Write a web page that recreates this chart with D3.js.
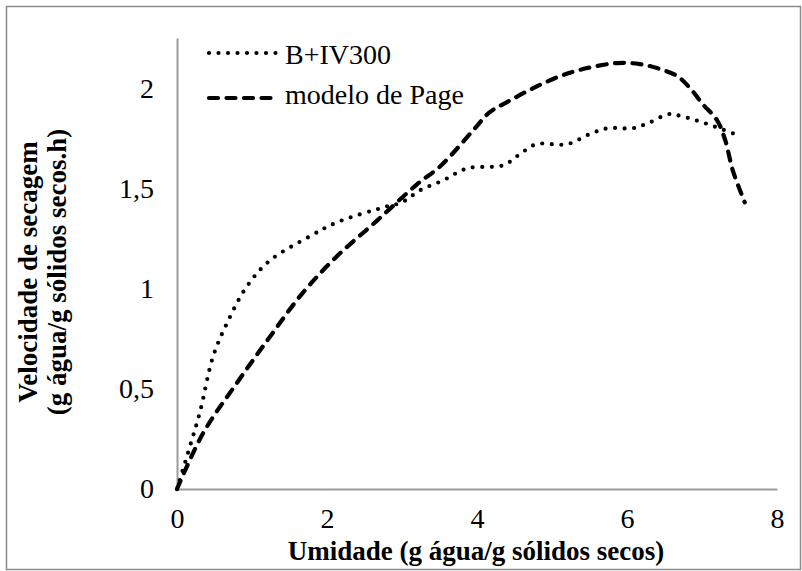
<!DOCTYPE html>
<html>
<head>
<meta charset="utf-8">
<script src="https://cdn.jsdelivr.net/npm/d3@7"></script>
<style>
  html, body { margin: 0; padding: 0; background: #fff; }
  svg { display: block; }
</style>
</head>
<body>
<svg id="chart" width="802" height="571"></svg>
<script>
// Drying rate versus moisture: experimental B+IV300 and Page model
const seriesNames = ["B+IV300", "modelo de Page"];

// B+IV300 (moisture, drying rate)
const expX = [0, 0.17, 0.31, 0.48, 0.67, 0.93, 1.24, 1.77, 2.13, 2.8, 3.0, 3.24, 3.55, 3.87, 4.35, 4.57, 4.79, 5.2, 5.5, 5.75, 6.08, 6.31, 6.55, 6.67, 7.0, 7.48];
const expY = [0, 0.21, 0.39, 0.66, 0.83, 1.01, 1.14, 1.26, 1.33, 1.41, 1.43, 1.49, 1.54, 1.60, 1.615, 1.67, 1.72, 1.72, 1.77, 1.80, 1.80, 1.83, 1.87, 1.865, 1.83, 1.765];

// Page model (moisture, drying rate)
const pageX = [0, 0.35, 0.8, 1.24, 1.68, 2.13, 2.67, 3.2, 3.51, 3.95, 4.17, 4.4, 4.75, 5.11, 5.47, 5.87, 6.17, 6.44, 6.67, 6.84, 7.01, 7.2, 7.31, 7.41, 7.57];
const pageY = [0, 0.28, 0.53, 0.76, 0.98, 1.16, 1.34, 1.52, 1.61, 1.79, 1.88, 1.93, 2.0, 2.06, 2.10, 2.125, 2.12, 2.095, 2.06, 2.0, 1.92, 1.84, 1.74, 1.59, 1.43];

const xTicks = [0, 2, 4, 6, 8];
const yTicks = [0, 0.5, 1, 1.5, 2];
const xTitle = "Umidade (g água/g sólidos secos)";
const yTitleLines = ["Velocidade de secagem", "(g água/g sólidos secos.h)"];

const FONT = "'Liberation Serif', 'Times New Roman', Tinos, 'DejaVu Serif', serif";
const svg = d3.select("#chart");
const W = 802, H = 571;
const plot = { left: 177, right: 777, top: 38, bottom: 489 };

const x = d3.scaleLinear().domain([0, 8]).range([plot.left, plot.right]);
const y = d3.scaleLinear().domain([0, 2.25]).range([plot.bottom, plot.top]);

const fmt = d => String(d).replace(".", ",");
const axisColor = "#9b9b9b";

// chart frame
svg.append("rect")
  .attr("x", 6.5).attr("y", 6.5)
  .attr("width", W - 8).attr("height", H - 8)
  .attr("fill", "none").attr("stroke", "#8a8a8a").attr("stroke-width", 1.5);

// x axis
const gx = svg.append("g")
  .attr("transform", `translate(0,${plot.bottom})`)
  .call(d3.axisBottom(x).tickValues(xTicks).tickSize(0).tickPadding(20).tickFormat(fmt));
gx.attr("font-family", null).attr("font-size", null);
gx.select(".domain").attr("stroke", axisColor).attr("stroke-width", 2);
gx.selectAll("text").attr("y", 19).attr("dy", "0.71em")
  .style("font-family", FONT).style("font-size", "28px").style("fill", "#000");

// y axis
const gy = svg.append("g")
  .attr("transform", `translate(${plot.left},0)`)
  .call(d3.axisLeft(y).tickValues(yTicks).tickSize(0).tickPadding(23).tickFormat(fmt));
gy.attr("font-family", null).attr("font-size", null);
gy.select(".domain").attr("stroke", axisColor).attr("stroke-width", 2);
gy.selectAll("text")
  .style("font-family", FONT).style("font-size", "28px").style("fill", "#000");

// axis titles
svg.append("text")
  .attr("x", (plot.left + plot.right) / 2 - 1)
  .attr("y", 560)
  .attr("text-anchor", "middle")
  .style("font-family", FONT).style("font-size", "27px").style("font-weight", "bold")
  .text(xTitle);

const yTitle = svg.append("text")
  .attr("transform", "translate(37,272) rotate(-90)")
  .attr("text-anchor", "middle")
  .style("font-family", FONT).style("font-size", "27px").style("font-weight", "bold");
yTitleLines.forEach((t, i) => {
  yTitle.append("tspan").attr("x", 0).attr("y", i * 29).text(t);
});

// series
const styles = [
  { dash: "0 9.5", width: 4.2 },
  { dash: "9 8.5", width: 4.2 }
];
const data = [
  d3.zip(expX, expY),
  d3.zip(pageX, pageY)
];
const line = d3.line()
  .x(d => x(d[0]))
  .y(d => y(d[1]))
  .curve(d3.curveCatmullRom.alpha(0.5));

data.forEach((pts, i) => {
  svg.append("path")
    .datum(pts)
    .attr("d", line)
    .attr("fill", "none")
    .attr("stroke", "#000")
    .attr("stroke-width", styles[i].width)
    .attr("stroke-linecap", "round")
    .attr("stroke-dasharray", styles[i].dash);
});

// legend
const legendRows = [53, 98];
const legendBaselines = [63.5, 104];
seriesNames.forEach((name, i) => {
  svg.append("line")
    .attr("x1", 209).attr("x2", 276)
    .attr("y1", legendRows[i]).attr("y2", legendRows[i])
    .attr("stroke", "#000")
    .attr("stroke-width", styles[i].width)
    .attr("stroke-linecap", "round")
    .attr("stroke-dasharray", styles[i].dash);
  svg.append("text")
    .attr("x", 285).attr("y", legendBaselines[i])
    .style("font-family", FONT).style("font-size", "28px")
    .text(name);
});
</script>
</body>
</html>
